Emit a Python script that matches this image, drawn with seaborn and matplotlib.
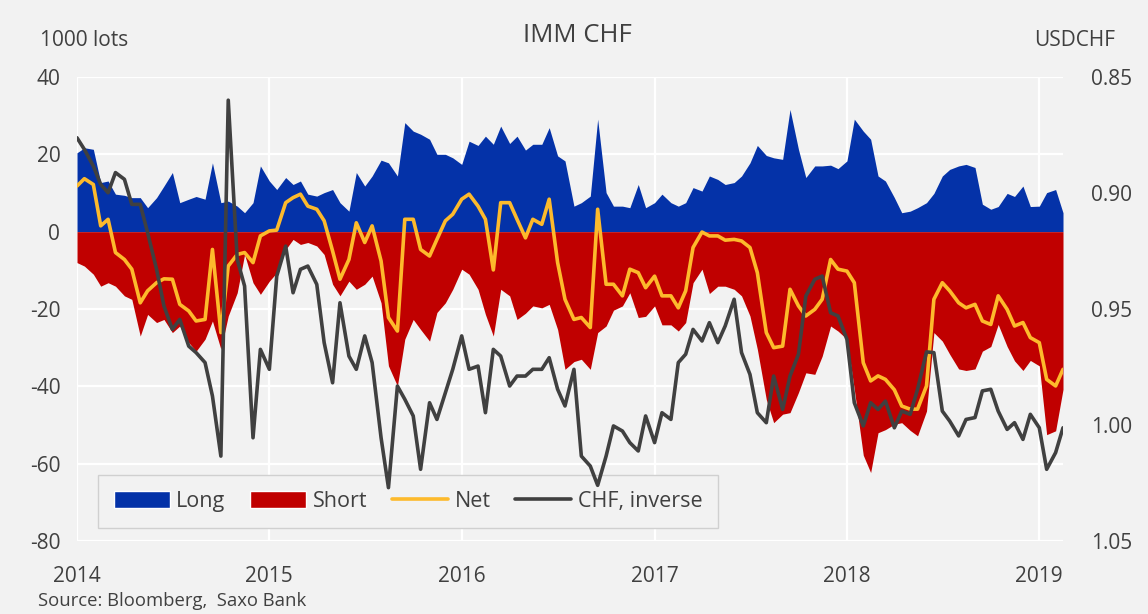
import numpy as np
import pandas as pd
import seaborn as sns
import matplotlib.pyplot as plt
from matplotlib.patches import Patch
from matplotlib.lines import Line2D

#======data (semi-monthly)======
dates = pd.date_range('2014-01-01', periods=124, freq='SMS')

long_pos = [20.4, 21.7, 21.3, 12.7, 13.1, 9.7, 9.4, 8.8, 8.8, 6.2, 8.8, 11.8, 15.3, 7.5, 8.4, 9.1, 8.4, 17.8, 7.5, 7.9, 6.6,
            4.9, 7.5, 17.0, 13.1, 10.9, 14.0, 12.2, 13.1, 9.7, 9.2, 10.1, 10.9, 7.5, 5.3, 15.3, 11.8, 14.4, 18.5, 17.8, 14.4, 28.2,
            26.0, 25.2, 23.9, 20.0, 20.0, 19.1, 17.4, 23.4, 22.3, 24.7, 22.6, 27.3, 22.8, 24.7, 21.1, 22.6, 22.6, 26.9, 19.6, 18.3, 6.6,
            7.5, 9.2, 29.1, 10.1, 6.6, 6.6, 6.2, 12.2, 6.2, 7.5, 9.7, 7.5, 6.6, 7.5, 11.4, 10.5, 14.4, 13.5, 12.2, 12.7, 14.4,
            17.8, 22.3, 19.7, 19.1, 18.7, 31.6, 21.3, 14.0, 17.0, 17.0, 17.2, 16.3, 18.3, 29.1, 26.0, 23.9, 14.4, 13.1, 8.8, 4.9,
            5.3, 6.2, 7.5, 9.9, 14.4, 16.1, 17.0, 17.4, 16.6, 7.1, 5.8, 6.5, 9.9, 9.1, 11.8, 6.5, 6.6, 10.1, 10.9, 4.9]

short_pos = [-8.0, -8.9, -11.0, -14.1, -13.2, -14.1, -16.6, -17.5, -27.0, -21.4, -23.5, -22.7, -26.1, -24.4, -28.7, -30.9, -27.8, -23.1, -30.4, -21.8, -15.8,
             -5.9, -13.2, -16.2, -12.8, -10.6, -4.6, -2.0, -3.3, -2.8, -3.7, -5.9, -13.6, -16.6, -12.8, -14.9, -13.6, -11.5, -18.4, -34.7, -39.9, -27.8,
             -22.7, -25.3, -28.3, -20.9, -18.4, -14.9, -9.7, -11.0, -14.9, -21.4, -27.0, -14.9, -16.6, -22.7, -21.1, -19.2, -19.7, -18.8, -25.3, -35.6, -33.6,
             -33.0, -35.6, -26.1, -24.4, -20.3, -19.2, -15.8, -22.2, -21.9, -19.2, -24.1, -24.1, -25.7, -23.5, -13.2, -9.7, -16.0, -14.1, -14.1, -14.9, -16.6,
             -21.8, -30.4, -43.4, -49.4, -47.2, -46.8, -41.6, -36.5, -36.9, -32.2, -24.4, -25.7, -27.8, -40.8, -57.8, -62.3, -52.0, -51.2, -49.8, -49.4,
             -51.4, -52.8, -46.4, -26.1, -28.3, -31.7, -35.5, -35.9, -35.5, -30.9, -29.7, -24.0, -29.7, -33.4, -35.9, -33.3, -34.7, -52.5, -51.5, -40.8]

net_pos = [11.8, 13.7, 12.2, 1.5, 3.2, -5.4, -7.2, -9.7, -18.4, -15.3, -13.2, -12.2, -12.3, -18.8, -20.5, -23.1, -22.7, -4.6, -26.1, -8.9, -5.9,
           -5.4, -8.0, -1.1, 0.2, 0.4, 7.5, 8.8, 9.7, 6.6, 5.8, 2.8, -5.0, -12.3, -7.2, 2.3, -2.8, 1.5, -7.6, -22.2, -25.7, 3.2,
           3.2, -4.6, -6.3, -2.0, 2.8, 4.5, 8.4, 9.7, 6.6, 3.2, -9.9, 7.5, 7.5, 3.2, -1.6, 3.2, 1.9, 8.4, -8.0, -17.5, -22.7,
           -22.2, -24.8, 5.8, -13.6, -13.6, -16.6, -9.7, -10.6, -14.5, -11.5, -16.6, -16.6, -19.7, -15.3, -4.1, -0.1, -1.1, -1.1, -2.2, -2.0, -2.4,
           -4.1, -10.6, -26.1, -30.0, -29.6, -14.9, -19.2, -21.8, -20.1, -17.5, -7.2, -9.7, -10.2, -13.2, -33.9, -38.6, -37.3, -38.2, -40.9, -45.1,
           -45.9, -45.9, -39.9, -17.5, -13.2, -15.3, -18.4, -19.7, -18.8, -23.1, -24.0, -16.6, -20.1, -24.4, -23.5, -27.4, -28.7, -38.2, -39.9, -35.6]

usdchf = [0.8762, 0.8812, 0.8884, 0.8963, 0.8999, 0.8912, 0.8941, 0.9049, 0.9049, 0.9171, 0.9329, 0.9487, 0.9588, 0.9545, 0.9660, 0.9688, 0.9731, 0.9875, 1.0134, 0.8600, 0.9286,
          0.9401, 1.0055, 0.9674, 0.9760, 0.9358, 0.9229, 0.9430, 0.9329, 0.9315, 0.9394, 0.9645, 0.9818, 0.9473, 0.9703, 0.9760, 0.9616, 0.9731, 1.0055, 1.0270, 0.9832, 0.9889,
          0.9961, 1.0191, 0.9904, 0.9976, 0.9861, 0.9760, 0.9616, 0.9760, 0.9746, 0.9947, 0.9674, 0.9703, 0.9832, 0.9789, 0.9789, 0.9760, 0.9760, 0.9710, 0.9846, 0.9918, 0.9760,
          1.0134, 1.0177, 1.0260, 1.0134, 1.0004, 1.0026, 1.0076, 1.0112, 0.9961, 1.0076, 0.9947, 0.9976, 0.9731, 0.9695, 0.9588, 0.9638, 0.9559, 0.9645, 0.9573, 0.9458, 0.9688,
          0.9782, 0.9947, 0.9990, 0.9789, 0.9933, 0.9789, 0.9695, 0.9444, 0.9372, 0.9358, 0.9516, 0.9530, 0.9631, 0.9904, 1.0004, 0.9904, 0.9933, 0.9897, 1.0012, 0.9940,
          0.9954, 0.9846, 0.9685, 0.9688, 0.9940, 0.9983, 1.0047, 0.9976, 0.9968, 0.9853, 0.9846, 0.9940, 1.0019, 0.9990, 1.0062, 0.9954, 1.0012, 1.0191, 1.0119, 1.0012]

years = [2014, 2015, 2016, 2017, 2018, 2019]
left_ticks = [40, 20, 0, -20, -40, -60, -80]
right_ticks = [0.85, 0.90, 0.95, 1.00, 1.05]

blue = '#0432A8'
red = '#C00000'
yellow = '#FDBA2C'
dark = '#404040'
bg = '#F2F2F2'

sns.set_theme(style='darkgrid', rc={'axes.facecolor': bg, 'figure.facecolor': bg,
                                    'grid.color': 'white', 'grid.linewidth': 1.6})
plt.rcParams['font.family'] = ['Open Sans', 'DejaVu Sans']

fig = plt.figure(figsize=(11.48, 6.14), dpi=100)
ax = fig.add_axes([77/1148, 1-541/614, 986/1148, 464/614])

#======areas + net======
ax.fill_between(dates, 0, long_pos, color=blue, linewidth=0)
ax.fill_between(dates, 0, short_pos, color=red, linewidth=0)
sns.lineplot(x=dates, y=net_pos, ax=ax, color=yellow, linewidth=2.6)

ax.set_ylim(-80, 40)
ax.set_yticks(left_ticks)
ax.set_yticklabels([str(t) for t in left_ticks])
ax.set_xlim(dates[0], dates[-1])
ax.set_xticks(pd.to_datetime([f'{y}-01-01' for y in years]))
ax.set_xticklabels([str(y) for y in years])
ax.set_xlabel('')
ax.set_ylabel('')
ax.tick_params(axis='both', length=0, labelsize=15, colors=dark)
ax.tick_params(axis='x', pad=18)
ax.tick_params(axis='y', pad=12)
for s in ax.spines.values():
    s.set_visible(False)

handles = [Patch(facecolor=blue), Patch(facecolor=red),
           Line2D([], [], color=yellow, lw=2.6), Line2D([], [], color=dark, lw=2.6)]
leg = ax.legend(handles, ['Long', 'Short', 'Net', 'CHF, inverse'], ncol=4, loc='lower left',
                bbox_to_anchor=(0.021, 0.028), borderaxespad=0, frameon=True, fancybox=False,
                facecolor=bg, edgecolor='#D0D0D0', framealpha=1, fontsize=15.5,
                handlelength=2.6, handleheight=0.8, columnspacing=1.15, handletextpad=0.3,
                borderpad=0.75)
for t in leg.get_texts():
    t.set_color(dark)

#======CHF inverse on right axis======
ax2 = ax.twinx()
sns.lineplot(x=dates, y=usdchf, ax=ax2, color=dark, linewidth=2.6)
ax2.set_ylim(1.05, 0.85)
ax2.set_yticks(right_ticks)
ax2.set_yticklabels([f'{t:.2f}' for t in right_ticks])
ax2.grid(False)
ax2.set_xlabel('')
ax2.set_ylabel('')
ax2.tick_params(axis='y', length=0, labelsize=15, colors=dark, pad=20)
for s in ax2.spines.values():
    s.set_visible(False)

#======texts======
fig.text(40/1148, 1-40/614, '1000 lots', ha='left', va='center', fontsize=15, color=dark)
fig.text(577/1148, 1-35/614, 'IMM CHF', ha='center', va='center', fontsize=18.5, color=dark)
fig.text(1115/1148, 1-40/614, 'USDCHF', ha='right', va='center', fontsize=15, color=dark)
fig.text(38/1148, 1-601/614, 'Source: Bloomberg,  Saxo Bank', ha='left', va='center', fontsize=13.3, color=dark)

plt.savefig('out.png', dpi=100, facecolor=bg)
